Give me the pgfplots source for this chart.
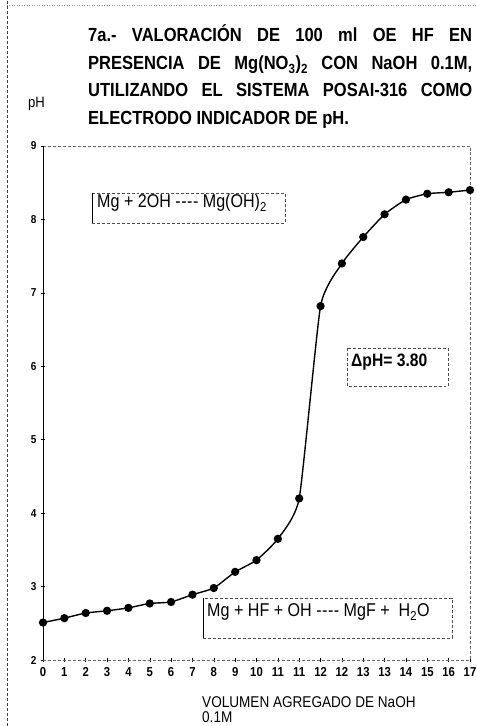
\documentclass[border=0pt]{standalone}
\usepackage{fontspec}
\setmainfont{Liberation Sans}[FakeStretch=0.87]
\usepackage{pgfplots}
\pgfplotsset{compat=1.18}
\newcommand{\dashes}{-\kern0.5pt-\kern0.5pt-\kern0.5pt-}
\begin{document}
\begin{tikzpicture}
\path[use as bounding box] (0bp,0bp) rectangle (477bp,726bp);
% outer scan frame
\draw[black!75, densely dashed, line width=0.6pt] (7bp,0bp) -- (7bp,726bp);
\draw[black!40, dotted, line width=0.5pt] (7bp,721bp) -- (477bp,721bp);
\begin{axis}[
  at={(43bp,66bp)}, anchor=south west,
  scale only axis, width=427bp, height=514bp,
  xmin=0, xmax=20, ymin=2, ymax=9,
  xtick={0,...,20},
  xticklabels={0,1,2,3,4,5,6,7,8,9,10,11,11,12,12,13,13,14,15,16,17},
  ytick={2,...,9},
  xtick pos=bottom, ytick pos=left,
  axis line style={draw=none},
  tick style={black, line width=0.5pt},
  major tick length=4bp, tick align=center,
  /pgf/number format/assume math mode=true,
  xticklabel style={font=\bfseries\fontsize{13bp}{14bp}\selectfont, yshift=-2bp},
  yticklabel style={font=\bfseries\fontsize{11.5bp}{13bp}\selectfont, xshift=-1bp},
  clip=false,
]
\draw[black!60, densely dashed, line width=0.5pt] (rel axis cs:0,0) -- (rel axis cs:1,0) -- (rel axis cs:1,1) -- (rel axis cs:0,1);
\draw[black, line width=0.7pt] (rel axis cs:0,0) -- (rel axis cs:0,1);
\addplot[black, line width=1.4pt, smooth, tension=0.3, mark=*, mark size=3.4bp, mark options={solid, fill=black}]
coordinates {
(0,2.51) (1,2.57) (2,2.64) (3,2.67) (4,2.71) (5,2.77) (6,2.79) (7,2.89)
(8,2.98) (9,3.20) (10,3.36) (11,3.65) (12,4.20) (13,6.82) (14,7.40)
(15,7.76) (16,8.07) (17,8.27) (18,8.35) (19,8.37) (20,8.40)
};
\end{axis}
% title
\begin{scope}[every node/.style={inner sep=0pt, anchor=base west, font=\bfseries\fontsize{19bp}{22bp}\selectfont}]
\node at (88bp,684bp) {\makebox[384bp][s]{7a.- VALORACIÓN DE 100 ml OE HF EN}};
\node at (88bp,656bp) {\makebox[384bp][s]{PRESENCIA DE Mg(NO\textsubscript{3})\textsubscript{2} CON NaOH 0.1M,}};
\node at (88bp,629bp) {\makebox[384bp][s]{UTILIZANDO EL SISTEMA POSAI-316 COMO}};
\node at (88bp,601bp) {ELECTRODO INDICADOR DE pH.};
\end{scope}
% axis titles
\node[inner sep=0pt, anchor=base west, font=\fontsize{15bp}{17bp}\selectfont] at (28bp,618bp) {pH};
\node[inner sep=0pt, anchor=base west, font=\fontsize{15.6bp}{17bp}\selectfont] at (202bp,19bp) {VOLUMEN AGREGADO DE NaOH};
\node[inner sep=0pt, anchor=base west, font=\fontsize{15.6bp}{17bp}\selectfont] at (202bp,4bp) {0.1M};
% annotation boxes
\draw[black!70, densely dashed, line width=0.5pt] (92bp,533bp) rectangle (285bp,503bp);
\draw[black, line width=0.6pt] (92bp,533bp) -- (92bp,503bp);
\node[inner sep=0pt, anchor=base west, font=\fontsize{18.5bp}{20bp}\selectfont] at (97bp,518bp) {Mg + 2OH \dashes\ Mg(OH)\textsubscript{2}};
\draw[black!70, densely dashed, line width=0.5pt] (347bp,378bp) rectangle (448bp,340bp);
\node[inner sep=0pt, anchor=base west, font=\bfseries\fontsize{18bp}{20bp}\selectfont] at (351bp,359bp) {ΔpH= 3.80};
\draw[black!70, densely dashed, line width=0.5pt] (203bp,128bp) rectangle (452bp,88bp);
\draw[black, line width=0.6pt] (203bp,128bp) -- (203bp,88bp);
\node[inner sep=0pt, anchor=base west, font=\fontsize{18.5bp}{20bp}\selectfont] at (207bp,109bp) {Mg + HF + OH \dashes\ MgF +\ \ H\textsubscript{2}O};
\end{tikzpicture}
\end{document}
